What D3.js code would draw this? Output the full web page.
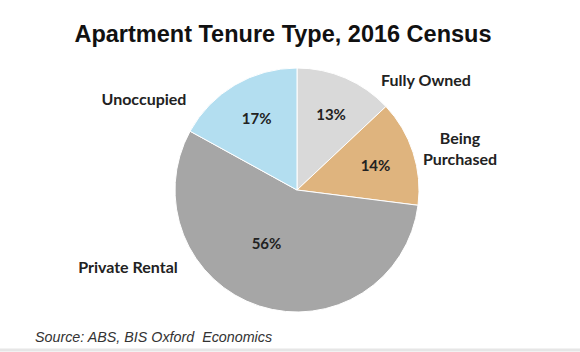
<!DOCTYPE html>
<html>
<head>
<script src="https://d3js.org/d3.v7.min.js"></script>
<style>
  body { margin: 0; background: #fff; }
</style>
</head>
<body>
<svg width="580" height="352"></svg>
<script>
// data
const categories = ["Fully Owned", "Being Purchased", "Private Rental", "Unoccupied"];
const shares = [13, 14, 56, 17];
const colors = ["#d9d9d9", "#dfb47e", "#a6a6a6", "#b3def0"];

let svg = d3.select("svg");
let width = +svg.attr("width");
let height = +svg.attr("height");

svg.append("rect").attr("width", width).attr("height", height).attr("fill", "#fff");

// title
svg.append("text")
    .attr("x", 283).attr("y", 42)
    .attr("text-anchor", "middle")
    .style("font-family", "Liberation Sans, Arial, sans-serif")
    .style("font-weight", "bold")
    .style("font-size", "23.5px")
    .attr("fill", "#111")
    .text("Apartment Tenure Type, 2016 Census");

// pie
const cx = 297, cy = 190, r = 122;
let pie = d3.pie().sort(null).value(d => d);
let arcs = pie(shares);
let arcGen = d3.arc().innerRadius(0).outerRadius(r);

let g = svg.append("g").attr("transform", `translate(${cx},${cy})`);
g.selectAll("path").data(arcs).join("path")
    .attr("d", arcGen)
    .attr("fill", (d, i) => colors[i])
    .attr("stroke", "#fff")
    .attr("stroke-width", 1);

// percent labels inside slices
const labelFont = "Lato, 'Open Sans', sans-serif";
g.selectAll("text.pct").data(arcs).join("text")
    .attr("class", "pct")
    .attr("transform", d => {
        let big = d.data > 50;
        let a = (d.startAngle + d.endAngle) / 2 + (big ? 0.2 : 0.02);
        let rr = big ? 62 : 82;
        return `translate(${rr * Math.sin(a)},${-rr * Math.cos(a) + 5})`;
    })
    .attr("text-anchor", "middle")
    .style("font-family", labelFont)
    .style("font-weight", "bold")
    .style("font-size", "15px")
    .attr("fill", "#222")
    .text(d => d.data + "%");

// outside category labels
const outside = [
    { lines: [categories[0]], x: 426, y: 86 },
    { lines: ["Being", "Purchased"], x: 460, y: 144 },
    { lines: [categories[2]], x: 128, y: 273 },
    { lines: [categories[3]], x: 144, y: 105 }
];
outside.forEach(o => {
    let t = svg.append("text")
        .attr("text-anchor", "middle")
        .style("font-family", labelFont)
        .style("font-weight", "bold")
        .style("font-size", "16px")
        .attr("fill", "#222");
    o.lines.forEach((ln, k) => {
        t.append("tspan").attr("x", o.x).attr("y", o.y + k * 21).text(ln);
    });
});

// source
svg.append("text")
    .attr("x", 35).attr("y", 342)
    .style("font-family", "Liberation Sans, Arial, sans-serif")
    .style("font-style", "italic")
    .style("font-size", "14.3px")
    .style("white-space", "pre")
    .attr("fill", "#333")
    .text("Source: ABS, BIS Oxford  Economics");

svg.append("line")
    .attr("x1", 0).attr("x2", width).attr("y1", 350).attr("y2", 350)
    .attr("stroke", "#e6e6e6").attr("stroke-width", 3);
</script>
</body>
</html>
